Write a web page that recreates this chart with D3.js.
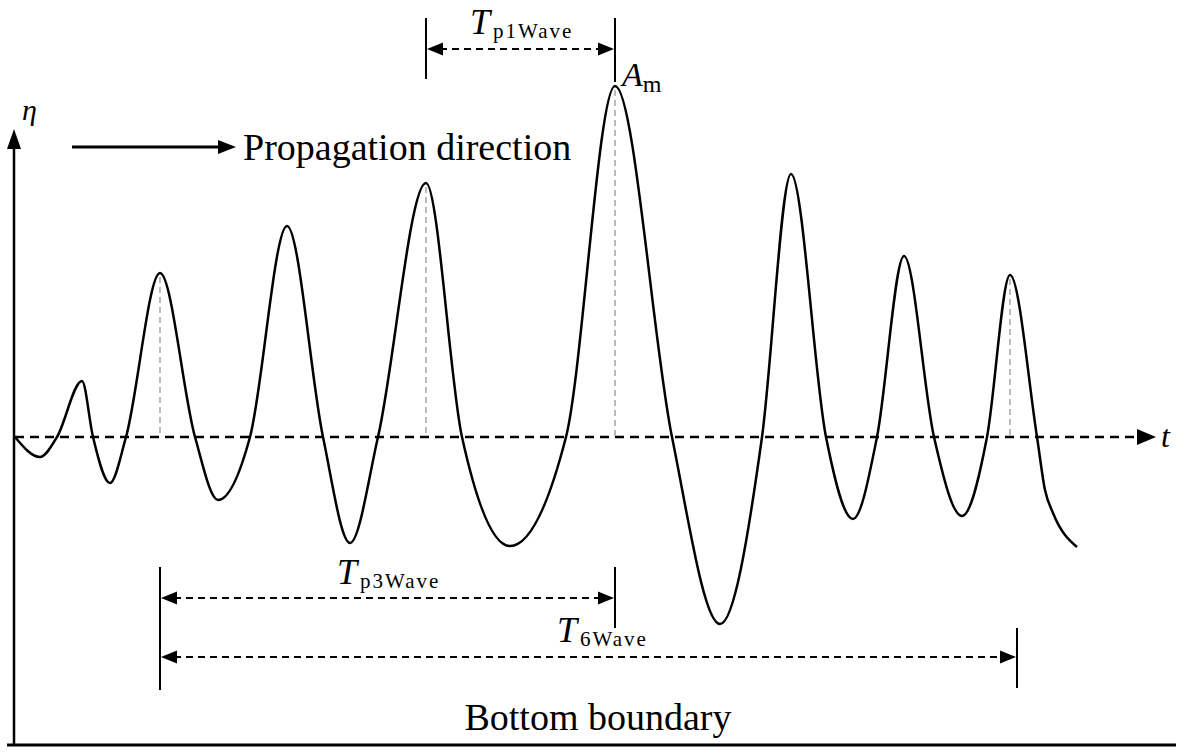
<!DOCTYPE html>
<html>
<head>
<meta charset="utf-8">
<script src="https://cdn.jsdelivr.net/npm/d3@7"></script>
<style>
  html, body { margin: 0; padding: 0; background: #fff; }
  svg { display: block; }
  text { font-family: "Liberation Serif", "DejaVu Serif", serif; fill: #000; }
</style>
</head>
<body>
<svg id="chart" width="1181" height="755"></svg>
<script>
// ---------- DATA ----------
// wave surface elevation knots (time t, elevation eta)
const tKnots = [0, 0.5, 0.84, 1.34, 1.56, 1.9, 2.22, 2.9, 3.6, 4.06, 4.7, 5.44, 6.16, 6.7, 7.26,
  8.22, 8.94, 9.9, 11.02, 12.0, 13.14, 14.1, 14.94, 15.52, 16.22, 16.76, 17.24, 17.78, 18.38,
  18.94, 19.44, 19.9, 20.44, 20.6, 20.76, 21.24];
const etaKnots = [0, -0.2, 0, 0.56, 0, -0.46, 0, 1.64, 0, -0.63, 0, 2.11, 0, -1.06, 0,
  2.54, 0, -1.09, 0, 3.51, 0, -1.87, 0, 2.63, 0, -0.82, 0, 1.81, 0,
  -0.79, 0, 1.62, 0, -0.53, -0.76, -1.1];
// marked crests (grey dashed drop lines)
const crestT = [2.9, 8.22, 12.0, 19.9];
const crestEta = [1.64, 2.54, 3.51, 1.62];
// period annotations
const periodLabels = ["p1Wave", "p3Wave", "6Wave"];
const periodStart = [8.22, 2.9, 2.9];
const periodEnd = [12.0, 12.0, 20.04];
// axis domains
const tDomain = [0, 22.5];
const etaDomain = [-1, 1];

// ---------- LAYOUT ----------
const svg = d3.select("#chart");
const x = d3.scaleLinear().domain(tDomain).range([15, 1140]);
const y = d3.scaleLinear().domain(etaDomain).range([537, 337]);
const y0 = y(0);

function arrowHead(g, tipX, tipY, dir, len, half) {
  let pts;
  if (dir === 'r') pts = [[tipX, tipY], [tipX - len, tipY - half], [tipX - len, tipY + half]];
  else if (dir === 'l') pts = [[tipX, tipY], [tipX + len, tipY - half], [tipX + len, tipY + half]];
  else pts = [[tipX, tipY], [tipX - half, tipY + len], [tipX + half, tipY + len]];
  g.append("path").attr("d", "M" + pts.map(p => p.join(",")).join("L") + "Z").attr("fill", "#000");
}

// left (eta) axis
svg.append("line").attr("x1", 14).attr("x2", 14).attr("y1", 746).attr("y2", 145)
  .attr("stroke", "#000").attr("stroke-width", 2.5);
arrowHead(svg, 14, 129, 'u', 20, 7);
svg.append("text").attr("x", 22).attr("y", 120).attr("font-size", 30).attr("font-style", "italic").text("η");

// bottom boundary
svg.append("line").attr("x1", 7).attr("x2", 1176).attr("y1", 745).attr("y2", 745)
  .attr("stroke", "#000").attr("stroke-width", 3);
svg.append("text").attr("x", 598).attr("y", 730).attr("text-anchor", "middle").attr("font-size", 38)
  .text("Bottom boundary");

// zero (t) axis dashed
svg.append("line").attr("x1", x(tDomain[0])).attr("x2", 1140).attr("y1", y0).attr("y2", y0)
  .attr("stroke", "#000").attr("stroke-width", 2.5).attr("stroke-dasharray", "9,6");
arrowHead(svg, 1156, y0, 'r', 19, 8);
svg.append("text").attr("x", 1161).attr("y", y0 + 10).attr("font-size", 32).attr("font-style", "italic").text("t");

// grey crest drop lines
crestT.forEach((t, i) => {
  svg.append("line").attr("x1", x(t)).attr("x2", x(t)).attr("y1", y(crestEta[i]) + 4).attr("y2", y0)
    .attr("stroke", "#aaa").attr("stroke-width", 1.6).attr("stroke-dasharray", "6,4");
});

// wave line
const pts = tKnots.map((t, i) => [t, etaKnots[i]]);
svg.append("path").datum(pts)
  .attr("d", d3.line().x(d => x(d[0])).y(d => y(d[1])).curve(d3.curveMonotoneX))
  .attr("fill", "none").attr("stroke", "#000").attr("stroke-width", 2.5);

// propagation direction
svg.append("line").attr("x1", 72).attr("x2", 222).attr("y1", 147).attr("y2", 147)
  .attr("stroke", "#000").attr("stroke-width", 3);
arrowHead(svg, 236, 147, 'r', 18, 7);
svg.append("text").attr("x", 243).attr("y", 160).attr("font-size", 38).text("Propagation direction");

// A_m label
const amG = svg.append("text").attr("x", x(crestT[2]) + 7).attr("y", 86).attr("font-size", 34);
amG.append("tspan").attr("font-style", "italic").text("A");
amG.append("tspan").attr("font-size", 24).attr("dy", 6).text("m");

// period annotations
const annLineY = [49, 598, 657];
const tickTop = [[18, 18], [567, 567], [null, 628]];
const tickBot = [[79, 82], [690, 628], [null, 688]];
const labelPos = [[470, 34], [337, 584], [557, 642]];

function dimLine(i) {
  const xa = x(periodStart[i]), xb = x(periodEnd[i]), yy = annLineY[i];
  svg.append("line").attr("x1", xa + 14).attr("x2", xb - 14).attr("y1", yy).attr("y2", yy)
    .attr("stroke", "#000").attr("stroke-width", 2).attr("stroke-dasharray", "7,5");
  arrowHead(svg, xa + 1, yy, 'l', 16, 6.5);
  arrowHead(svg, xb - 1, yy, 'r', 16, 6.5);
  if (tickTop[i][0] !== null)
    svg.append("line").attr("x1", xa).attr("x2", xa).attr("y1", tickTop[i][0]).attr("y2", tickBot[i][0])
      .attr("stroke", "#000").attr("stroke-width", 2);
  svg.append("line").attr("x1", xb).attr("x2", xb).attr("y1", tickTop[i][1]).attr("y2", tickBot[i][1])
    .attr("stroke", "#000").attr("stroke-width", 2);
  const lab = svg.append("text").attr("x", labelPos[i][0]).attr("y", labelPos[i][1]).attr("font-size", 36);
  lab.append("tspan").attr("font-style", "italic").text("T");
  lab.append("tspan").attr("font-size", 21).attr("letter-spacing", 2).attr("dx", 3).attr("dy", 4).text(periodLabels[i]);
}
[0, 1, 2].forEach(dimLine);
</script>
</body>
</html>
